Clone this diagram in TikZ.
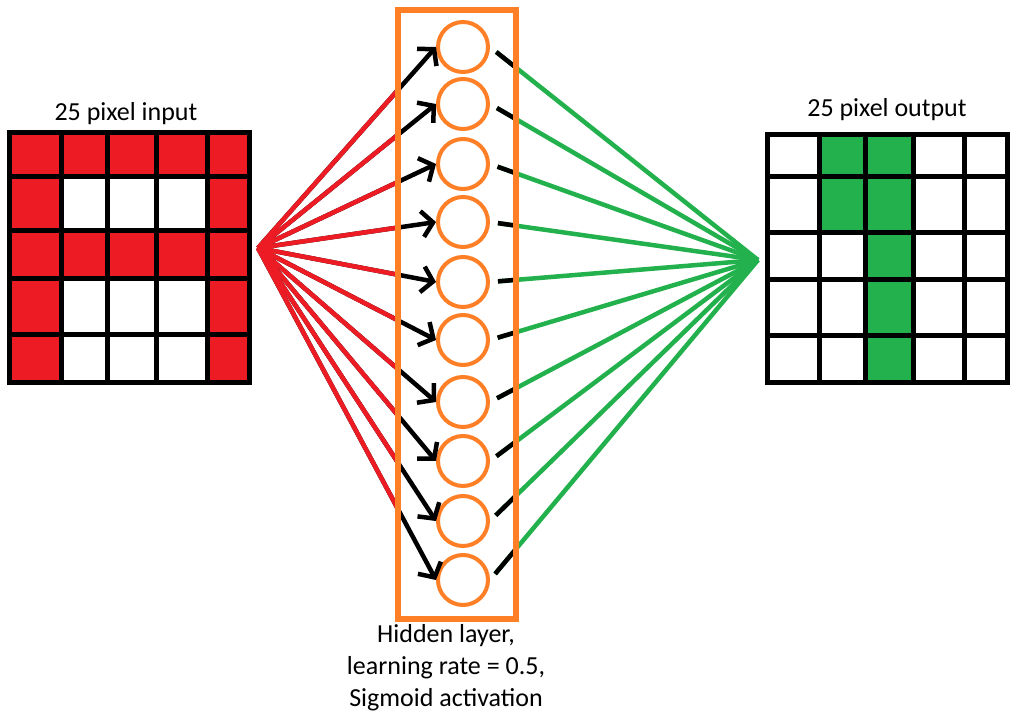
\documentclass[tikz,border=0pt]{standalone}
\usepackage{fontspec}
\setmainfont{Carlito}
\usetikzlibrary{arrows.meta}
\definecolor{pxred}{RGB}{237,28,36}
\definecolor{pxgreen}{RGB}{34,177,76}
\definecolor{pxorange}{RGB}{255,127,39}
\tikzset{
  gridline/.style={line width=5pt, line cap=rect},
  neuron/.style={circle, draw=pxorange, line width=4pt, minimum size=50pt, inner sep=0pt},
  synapse/.style={line width=4.5pt, -{Straight Barb[length=11pt, width=26pt]}},
  weight/.style={line width=4.5pt},
  caption/.style={font=\fontsize{26}{32}\selectfont, inner sep=0pt}
}
\begin{document}
\begin{tikzpicture}[x=1pt, y=-1pt]
    \useasboundingbox (0,0) rectangle (1018,727);
    % input grid, letter A
    \foreach \xa/\xb in {9.5/61,61/107.5,107.5/156,156/207.5,207.5/249.5}
        \fill[pxred] (\xa,132.5) rectangle (\xb,176.5) (\xa,230.5) rectangle (\xb,278.5);
    \foreach \ya/\yb in {176.5/230.5,278.5/335,335/382.5}
        \fill[pxred] (9.5,\ya) rectangle (61,\yb) (207.5,\ya) rectangle (249.5,\yb);
    \foreach \x in {9.5,61,107.5,156,207.5,249.5}
        \draw[gridline] (\x,132.5) -- (\x,382.5);
    \foreach \y in {132.5,176.5,230.5,278.5,335,382.5}
        \draw[gridline] (9.5,\y) -- (249.5,\y);
    \node[caption, anchor=base] (inlabel) at (126,121) {25 pixel input};
    % output grid, digit 1
    \fill[pxgreen] (819,134.5) rectangle (865.5,232.5);
    \fill[pxgreen] (865.5,134.5) rectangle (913.5,382.5);
    \foreach \x in {767.5,819,865.5,913.5,964.5,1007.5}
        \draw[gridline] (\x,134.5) -- (\x,382.5);
    \foreach \y in {134.5,177,232.5,280,335.5,382.5}
        \draw[gridline] (767.5,\y) -- (1007.5,\y);
    \node[caption, anchor=base] (outlabel) at (887,117) {25 pixel output};
    % hidden layer
    \coordinate (inapex) at (258,248);
    \coordinate (outapex) at (758,260);
    \foreach \y [count=\i] in {47,104,164,222,282,340,402,461,521,580}
        \node[neuron] (h\i) at (463,\y) {};
    \foreach \i in {1,...,10} {
        \draw[synapse] (inapex) -- (h\i.west);
        \draw[weight, pxgreen, shorten <=8pt] (h\i.east) -- (outapex);
    }
    \begin{scope}
        \clip (0,0) rectangle (397.5,727);
        \foreach \i in {1,...,10}
            \draw[weight, pxred] (inapex) -- (h\i.west);
    \end{scope}
    \begin{scope}
        \clip (397.5,0) rectangle (516,727);
        \foreach \i in {1,...,10}
            \draw[weight, shorten <=8pt] (h\i.east) -- (outapex);
    \end{scope}
    \draw[pxorange, line width=6pt] (397.5,10) rectangle (516,618.5);
    \node[caption, anchor=north, align=center] (hidlabel) at (446,624)
        {Hidden layer,\\learning rate = 0.5,\\Sigmoid activation};
\end{tikzpicture}
\end{document}
